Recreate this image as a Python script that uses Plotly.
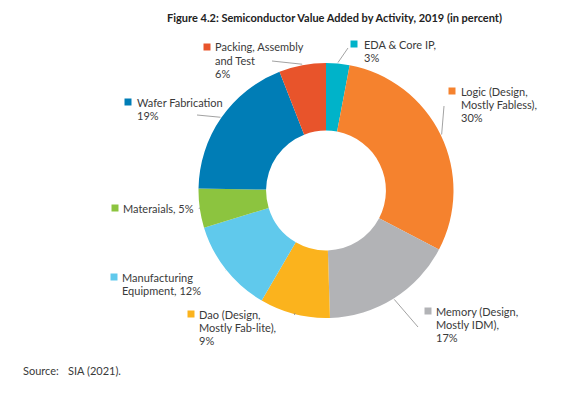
import math
import plotly.graph_objects as go

# ---- data ----
categories = ["EDA & Core IP", "Logic (Design, Mostly Fabless)", "Memory (Design, Mostly IDM)",
              "Dao (Design, Mostly Fab-lite)", "Manufacturing Equipment", "Materaials",
              "Wafer Fabrication", "Packing, Assembly and Test"]
values = [3, 30, 17, 9, 12, 5, 19, 6]
label_lines = [
    ["EDA & Core IP,", "3%"],
    ["Logic (Design,", "Mostly Fabless),", "30%"],
    ["Memory (Design,", "Mostly IDM),", "17%"],
    ["Dao (Design,", "Mostly Fab-lite),", "9%"],
    ["Manufacturing", "Equipment, 12%"],
    ["Materaials, 5%"],
    ["Wafer Fabrication", "19%"],
    ["Packing, Assembly", "and Test", "6%"],
]
colors = ["#00B3C9", "#F5822E", "#B2B3B6", "#FBB31D", "#60C9EC", "#8CC43F", "#007DB6", "#E8542B"]

# ---- layout constants (pixels) ----
W, H = 587, 395
CX, CY, R = 326, 190.5, 127.5
HOLE = 0.47
# label block positions: (square x, first line y, text x)
label_pos = [
    (354, 44, 362),
    (452, 91, 459),
    (428, 311, 434),
    (191, 314, 197),
    (114, 277, 120),
    (115, 208, 121),
    (128, 102, 135),
    (207, 47, 213),
]
# leader line end points (pixels)
leader_end = [
    (348, 48),
    (444, 106),
    (418, 327),
    (295, 313),
    (225, 270),
    (200, 208),
    (197, 115),
    (272, 61),
]
LINE_H = 13.3
FS = 11

def px(x):
    return x / W

def py(y):
    return 1 - y / H

fig = go.Figure(go.Pie(
    labels=categories, values=values, hole=HOLE, sort=False, direction="clockwise",
    rotation=0, marker=dict(colors=colors, line=dict(width=0)),
    textinfo="none", hoverinfo="label+percent", showlegend=False,
    domain=dict(x=[px(CX - R), px(CX + R)], y=[py(CY + R), py(CY - R)]),
))

shapes = []
annotations = []
total = sum(values)
cum = 0
for i, v in enumerate(values):
    mid = (cum + v / 2) / total * 2 * math.pi
    cum += v
    sx = CX + (R + 1) * math.sin(mid)
    sy = CY - (R + 1) * math.cos(mid)
    ex, ey = leader_end[i]
    shapes.append(dict(type="line", xref="paper", yref="paper",
                       x0=px(sx), y0=py(sy), x1=px(ex), y1=py(ey),
                       line=dict(color="#8a8a8a", width=0.8)))
    qx, ly, tx = label_pos[i]
    shapes.append(dict(type="rect", xref="paper", yref="paper",
                       x0=px(qx - 3.5), x1=px(qx + 3.5), y0=py(ly + 3.5), y1=py(ly - 3.5),
                       fillcolor=colors[i], line=dict(width=0)))
    for j, t in enumerate(label_lines[i]):
        annotations.append(dict(text=t, xref="paper", yref="paper",
                                x=px(tx), y=py(ly + j * LINE_H), xanchor="left", yanchor="middle",
                                showarrow=False, font=dict(size=FS, color="#3a3a3a", family="Lato")))

annotations.append(dict(text="<b>Figure 4.2: Semiconductor Value Added by Activity, 2019 (in percent)</b>",
                        xref="paper", yref="paper", x=px(334), y=py(17), xanchor="center", yanchor="middle",
                        showarrow=False, font=dict(size=FS, color="#222222", family="Lato")))
annotations.append(dict(text="Source:", xref="paper", yref="paper", x=px(21), y=py(370),
                        xanchor="left", yanchor="middle", showarrow=False,
                        font=dict(size=FS, color="#3a3a3a", family="Lato")))
annotations.append(dict(text="SIA (2021).", xref="paper", yref="paper", x=px(66), y=py(370),
                        xanchor="left", yanchor="middle", showarrow=False,
                        font=dict(size=FS, color="#3a3a3a", family="Lato")))

fig.update_layout(width=W, height=H, margin=dict(l=0, r=0, t=0, b=0),
                  paper_bgcolor="white", plot_bgcolor="white",
                  shapes=shapes, annotations=annotations)
fig.write_html("out.html", config={"displayModeBar": False})

# remove the default page margin so the figure sits at the window origin
with open("out.html", "r", encoding="utf-8") as f:
    html = f.read()
html = html.replace("<head>", "<head><style>html,body{margin:0;padding:0;overflow:hidden;}</style>", 1)
with open("out.html", "w", encoding="utf-8") as f:
    f.write(html)
